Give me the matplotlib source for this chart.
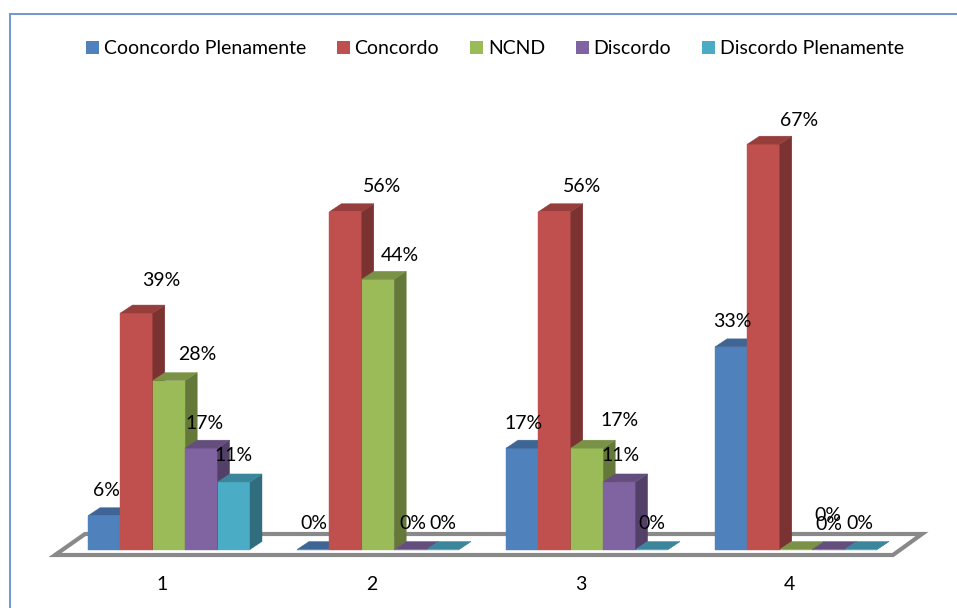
import matplotlib
matplotlib.use('Agg')
import matplotlib.pyplot as plt
from matplotlib.patches import Polygon, Patch
from matplotlib.lines import Line2D
import matplotlib.colors as mcolors
import numpy as np

plt.rcParams['font.family'] = ['Lato', 'DejaVu Sans']

# ---------------- data ----------------
categories = ['1', '2', '3', '4']
series_names = ['Cooncordo Plenamente', 'Concordo', 'NCND', 'Discordo', 'Discordo Plenamente']
cooncordo_plenamente = [5.56, 0.0, 16.67, 33.33]
concordo = [38.89, 55.56, 55.56, 66.67]
ncnd = [27.78, 44.44, 16.67, 0.0]
discordo = [16.67, 0.0, 11.11, 0.0]
discordo_plenamente = [11.11, 0.0, 0.0, 0.0]
series_values = [cooncordo_plenamente, concordo, ncnd, discordo, discordo_plenamente]
colors = ['#4F81BD', '#C0504D', '#9BBB59', '#8064A2', '#4BACC6']

# data-label offsets (pixels: right, up) per series per category
label_dx_px = [[2, 1, 1, 1], [25, 36, 27, 35], [28, 22, 33, 32], [3, 2, 1, 0], [0, 0, 0, -1]]
label_dy_px = [[25, 26, 25, 25], [33, 25, 25, 24], [26, 24, 28, 34], [25, 26, 26, 25], [26, 26, 26, 26]]

# ---------------- layout ----------------
W, H = 957, 608
PX_X = 209.0      # pixels per category unit
PX_Y = 6.08       # pixels per percent
X0_PX = 169.0     # pixel x of first category centre
Y0_PX = 549.5     # pixel y of value 0

fig = plt.figure(figsize=(W / 100, H / 100), dpi=100)
ax = fig.add_axes([0, 0, 1, 1])
ax.set_xlim(-X0_PX / PX_X, (W - X0_PX) / PX_X)
ax.set_ylim((Y0_PX - H) / PX_Y, Y0_PX / PX_Y)
ax.axis('off')

bar_w = 32.4 / PX_X
dx = 12 / PX_X
dy = 8 / PX_Y

def shade(c, f):
    r, g, b = mcolors.to_rgb(c)
    return (r * f, g * f, b * f)

# floor
fl_front = (Y0_PX - 555) / PX_Y
fl_back = (Y0_PX - 534) / PX_Y
floor = Polygon([(-0.545, fl_front), (3.464, fl_front), (3.603, fl_back), (-0.402, fl_back)],
                closed=True, facecolor='white', edgecolor='#898989', lw=3.0, zorder=1,
                joinstyle='miter')
ax.add_patch(floor)

x = np.arange(len(categories))
for j, (vals, col) in enumerate(zip(series_values, colors)):
    lefts = x + (j - 2.5) * bar_w
    zb = 3 + j
    ax.bar(lefts, vals, width=bar_w, align='edge', color=col, edgecolor=col,
           linewidth=0.3, zorder=zb)
    for xl, v in zip(lefts, vals):
        xr = xl + bar_w
        side = Polygon([(xr, 0), (xr + dx, dy), (xr + dx, v + dy), (xr, v)], closed=True,
                       facecolor=shade(col, 0.64), edgecolor=shade(col, 0.64), lw=0.3, zorder=zb)
        top = Polygon([(xl, v), (xr, v), (xr + dx, v + dy), (xl + dx, v + dy)], closed=True,
                      facecolor=shade(col, 0.78), edgecolor=shade(col, 0.78), lw=0.3, zorder=zb)
        ax.add_patch(side)
        ax.add_patch(top)

# data labels
for j, vals in enumerate(series_values):
    for i, v in enumerate(vals):
        xc = x[i] + (j - 2) * bar_w
        ax.text(xc + label_dx_px[j][i] / PX_X, v + label_dy_px[j][i] / PX_Y,
                f'{int(round(v))}%', ha='center', va='center', fontsize=14,
                color='black', zorder=20)

# category labels
for i, cat in enumerate(categories):
    ax.text(x[i] - 6.5 / PX_X, (Y0_PX - 585) / PX_Y, cat, ha='center', va='center',
            fontsize=14, color='black', zorder=20)

# legend
handles = [Patch(facecolor=c, edgecolor='none') for c in colors]
fig.legend(handles, series_names, loc='center', bbox_to_anchor=(495 / W, 1 - 49 / H),
           ncol=5, frameon=False, fontsize=14, handlelength=0.65, handleheight=0.65,
           handletextpad=0.25, columnspacing=1.6)

# chart border (left and top visible)
bx = 10 / W
by = 1 - 14 / H
fig.add_artist(Line2D([bx, bx], [0, by], transform=fig.transFigure, color='#6F97D2', lw=1.4))
fig.add_artist(Line2D([bx, 1], [by, by], transform=fig.transFigure, color='#6F97D2', lw=1.4))

fig.savefig('out.png', dpi=100)
